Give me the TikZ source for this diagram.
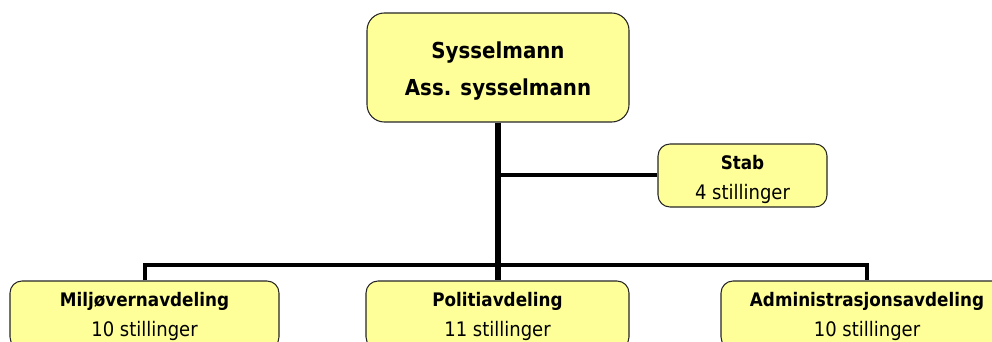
\documentclass[tikz,border=0pt]{standalone}
\usepackage{fontspec}
\setmainfont{DejaVu Sans Condensed}
\definecolor{boxyellow}{HTML}{FFFF99}
\tikzset{
  orgbox/.style={draw=black!85, line width=0.8pt, fill=boxyellow, rounded corners=9pt,
    align=center, inner sep=0pt, font=\fontsize{15}{22.5}\selectfont},
  mainline/.style={line width=4pt},
  branchline/.style={line width=3pt},
}
\newcommand{\unithead}[2][13.6pt]{\rule{0pt}{#1}{\bfseries\fontsize{14}{22.5}\selectfont #2}}
\begin{document}
\begin{tikzpicture}[x=0.75pt,y=-0.75pt]
\useasboundingbox (0,0) rectangle (992,342);
\clip (0,0) rectangle (992,342);
% boxes
\node[orgbox, rounded corners=13pt, minimum width=196.5pt, minimum height=81.75pt,
  font=\bfseries\fontsize{16.5}{27.75}\selectfont] (sys) at (498,67.5) {\rule{0pt}{18.5pt}Sysselmann\\Ass. sysselmann};
\node[orgbox, minimum width=126.75pt, minimum height=47.25pt] (stab) at (742.5,175.5) {\unithead[16.6pt]{Stab}\\4 stillinger};
\node[orgbox, minimum width=201.75pt, minimum height=51pt] (milj) at (144.5,315) {\unithead{Miljøvernavdeling}\\10 stillinger};
\node[orgbox, minimum width=197.25pt, minimum height=51pt] (pol) at (497.5,315) {\unithead{Politiavdeling}\\11 stillinger};
\node[orgbox, minimum width=219pt, minimum height=51pt] (adm) at (867,315) {\unithead{Administrasjonsavdeling}\\10 stillinger};
% lines
\coordinate (bar) at (498,264.5);
\draw[mainline] (sys.south) -- (sys.south |- pol.north);
\draw[branchline] (sys.south |- stab.west) -- (stab.west);
\draw[branchline] (milj.north) |- (bar) -| (adm.north);
\end{tikzpicture}
\end{document}
